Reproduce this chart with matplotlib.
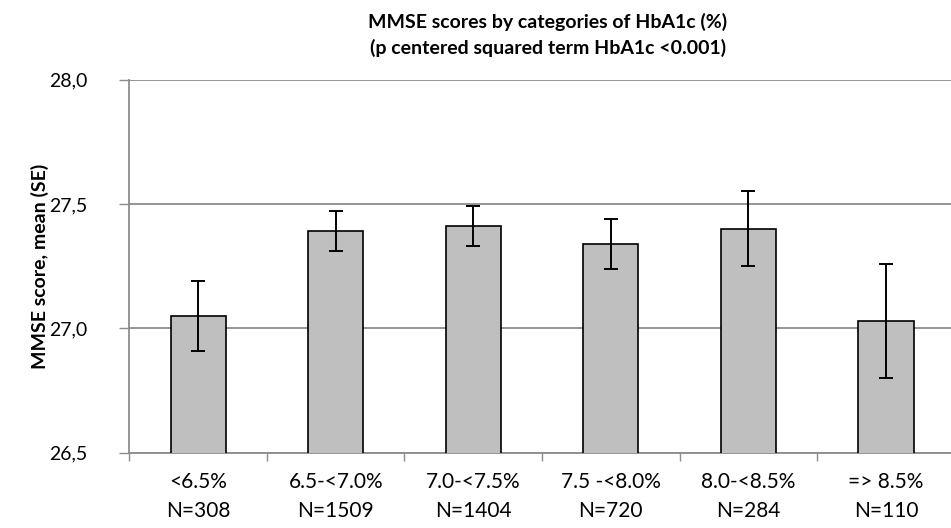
import numpy as np
import matplotlib
matplotlib.use("Agg")
from matplotlib import pyplot as plt

# categories of HbA1c and group sizes
categories = ["<6.5%", "6.5-<7.0%", "7.0-<7.5%", "7.5 -<8.0%", "8.0-<8.5%", "=> 8.5%"]
groupN = [308, 1509, 1404, 720, 284, 110]
# mean MMSE score and its standard error per category
meanMMSE = [27.05, 27.39, 27.41, 27.34, 27.40, 27.03]
seMMSE = [0.14, 0.08, 0.08, 0.10, 0.15, 0.23]
yTicks = [26.5, 27.0, 27.5, 28.0]

plt.rcParams["font.family"] = ["Lato", "DejaVu Sans"]

GRID = "#8c8c8c"

fig = plt.figure(figsize=(9.51, 5.28), dpi=100)
ax = fig.add_axes([0.136, 0.1426, 0.868, 0.7068])

x = np.arange(len(categories))
ax.bar(x, meanMMSE, width=0.4, bottom=0, color="#bfbfbf", edgecolor="black",
       linewidth=1.2, zorder=3)
ax.errorbar(x, meanMMSE, yerr=seMMSE, fmt="none", ecolor="black",
            elinewidth=1.4, capsize=5, capthick=1.4, zorder=4)

ax.set_ylim(26.5, 28.0)
ax.set_xlim(-0.5, len(categories) - 0.5)
ax.set_yticks(yTicks)
ax.set_yticklabels([("%.1f" % v).replace(".", ",") for v in yTicks], fontsize=14)
ax.yaxis.grid(True, color=GRID, linewidth=1.3, zorder=0)
ax.tick_params(axis="y", direction="out", length=7, width=1, color=GRID, pad=23)

# category boundaries get the tick marks, labels sit in between
ax.set_xticks(np.arange(len(categories) + 1) - 0.5)
ax.set_xticklabels([])
ax.tick_params(axis="x", which="major", direction="out", length=6, width=1, color=GRID)
ax.set_xticks(x, minor=True)
ax.set_xticklabels([c + "\nN=" + str(n) for c, n in zip(categories, groupN)],
                   minor=True, fontsize=15, linespacing=1.55)
ax.tick_params(axis="x", which="minor", length=0, pad=14)

for side in ["top", "right"]:
    ax.spines[side].set_visible(False)
for side in ["left", "bottom"]:
    ax.spines[side].set_color(GRID)
    ax.spines[side].set_linewidth(1.3)

ax.set_ylabel("MMSE score, mean (SE)", fontsize=14, fontweight="bold")
ax.yaxis.set_label_coords(-0.097, 0.5)

fig.text(548 / 951, 1 - 22 / 528, "MMSE scores by categories of HbA1c (%)",
         ha="center", va="center", fontsize=14, fontweight="bold")
fig.text(548 / 951, 1 - 48 / 528, "(p centered squared term HbA1c <0.001)",
         ha="center", va="center", fontsize=14, fontweight="bold")

fig.savefig("out.png", dpi=100)
